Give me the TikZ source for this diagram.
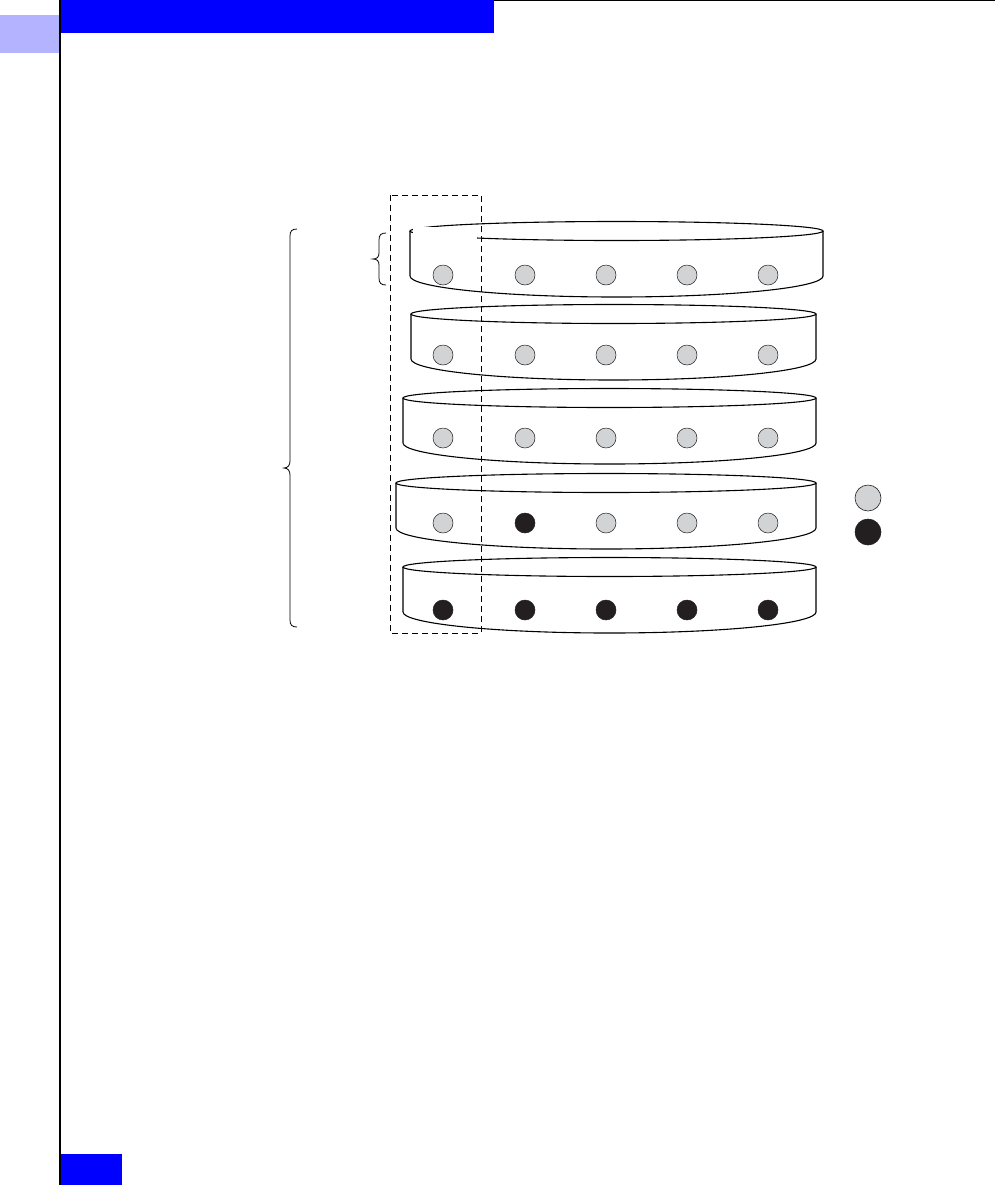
\documentclass[tikz,border=0pt]{standalone}
\definecolor{hdrblue}{RGB}{0,0,255}
\definecolor{lav}{RGB}{179,179,255}
\definecolor{dotgray}{RGB}{209,211,212}
\definecolor{dotblack}{RGB}{35,31,32}
\tikzset{
  diskline/.style={line width=1.1pt, draw=black},
  gdot/.style={circle, minimum size=20pt, inner sep=0pt, fill=dotgray, draw=dotblack, line width=0.5pt},
  bdot/.style={circle, minimum size=20pt, inner sep=0pt, fill=dotblack, draw=dotblack, line width=0.5pt},
  legdot/.style={circle, minimum size=26pt, inner sep=0pt, draw=dotblack, line width=0.6pt},
  dashbox/.style={draw=black, line width=0.9pt, dash pattern=on 6pt off 4pt},
  bracestyle/.style={draw=black, line width=0.8pt}
}
% \disk{xl}{xr}{ymid}
\newcommand{\mydisk}[3]{%
  \pgfmathsetmacro{\rx}{(#2-#1)/2}%
  \pgfmathsetmacro{\cx}{(#2+#1)/2}%
  \pgfmathsetmacro{\yb}{#3+45}%
  \fill[white] (#1,#3) -- (#1,\yb) arc[start angle=180,end angle=0,x radius=\rx,y radius=21] -- (#2,#3) arc[start angle=0,end angle=-180,x radius=\rx,y radius=9.5] -- cycle;
  \draw[diskline] (\cx,#3) ellipse[x radius=\rx,y radius=9.5];
  \draw[diskline] (#1,#3) -- (#1,\yb) arc[start angle=180,end angle=0,x radius=\rx,y radius=21] -- (#2,#3);
}
\begin{document}
\begin{tikzpicture}[x=1pt,y=-1pt]
\useasboundingbox (0,0) rectangle (995,1195);
\fill[white] (0,0) rectangle (995,1195);
% header
\fill[hdrblue] (61,0) rectangle (494,33);
\fill[lav] (0,15) rectangle (60,53);
\fill[hdrblue] (61,1154) rectangle (122,1185);
\draw[line width=1.3pt] (60,0) -- (60,1185);
\draw[line width=1pt] (494,0.5) -- (995,0.5);
% disks
\mydisk{410}{823}{231}
\fill[white] (413,226.5) rectangle (477,243);
\mydisk{411}{816}{314}
\mydisk{403}{816}{398}
\mydisk{396}{816}{483}
\mydisk{403}{816}{567}
% dots
\foreach \x [count=\i] in {443,525,606,687,768} {
  \node[gdot] (a\i) at (\x,275) {};
  \node[gdot] (b\i) at (\x,355) {};
  \node[gdot] (c\i) at (\x,438) {};
  \node[bdot] (e\i) at (\x,610) {};
}
\node[gdot] (d1) at (443,523) {};
\node[bdot] (d2) at (525,523) {};
\node[gdot] (d3) at (606,523) {};
\node[gdot] (d4) at (687,523) {};
\node[gdot] (d5) at (768,523) {};
% legend
\node[legdot, fill=dotgray] (lg) at (868,498) {};
\node[legdot, fill=dotblack] (lb) at (868,532) {};
% dashed box
\draw[dashbox] (390,195) rectangle (481,633);
% small brace
\draw[bracestyle] (386,233) .. controls (381,233) and (379,235) .. (379,240) -- (379,253) .. controls (379,257) and (377,259) .. (373,259) .. controls (377,259) and (379,261) .. (379,265) -- (379,278) .. controls (379,283) and (381,285) .. (386,285);
% big brace
\draw[bracestyle] (297,229) .. controls (292,229) and (290,231) .. (290,236) -- (290,461) .. controls (290,465) and (288,468) .. (284,468) .. controls (288,468) and (290,471) .. (290,475) -- (290,620) .. controls (290,625) and (292,627) .. (297,627);
\end{tikzpicture}
\end{document}
